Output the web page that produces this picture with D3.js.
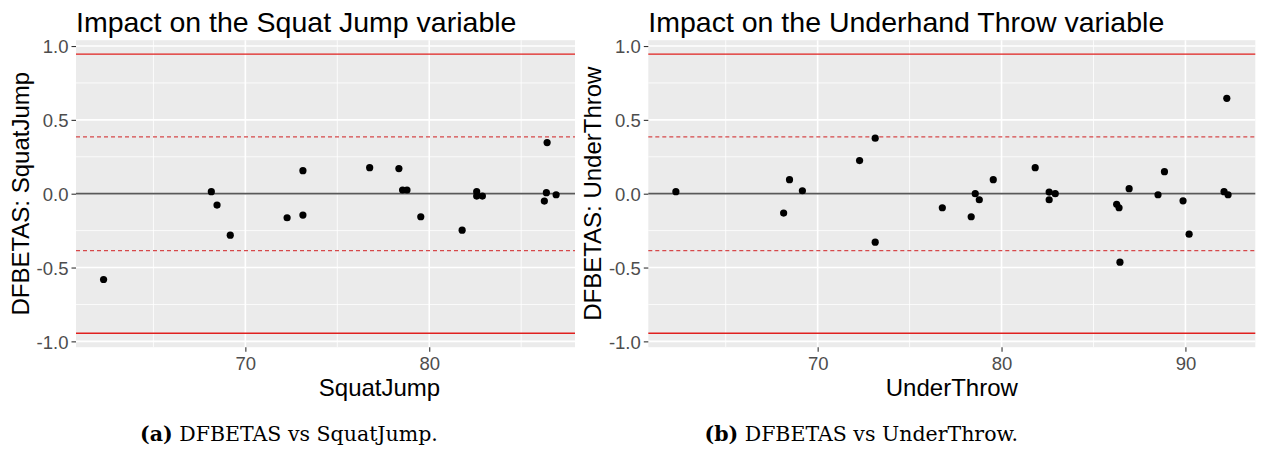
<!DOCTYPE html>
<html>
<head>
<meta charset="utf-8">
<script src="https://cdn.jsdelivr.net/npm/d3@7"></script>
<style>
  html, body { margin: 0; padding: 0; background: #ffffff; }
  svg { display: block; }
</style>
</head>
<body>
<svg id="chart" width="1261" height="450"></svg>
<script>
// ---------------- data ----------------
const titles = ["Impact on the Squat Jump variable", "Impact on the Underhand Throw variable"];
const xTitles = ["SquatJump", "UnderThrow"];
const yTitles = ["DFBETAS: SquatJump", "DFBETAS: UnderThrow"];
const captionTags = ["(a)", "(b)"];
const captionTexts = [" DFBETAS vs SquatJump.", " DFBETAS vs UnderThrow."];

// Squat Jump panel (visible points)
const sjX   = [62.29, 68.15, 68.46, 69.18, 72.27, 73.13, 73.13, 76.76, 78.35, 78.55,
               78.79, 79.54, 81.79, 82.58, 82.58, 82.89, 86.26, 86.41, 86.37, 86.90];
const sjDfb = [-0.581, 0.014, -0.077, -0.281, -0.163, 0.156, -0.145, 0.176, 0.170, 0.025,
               0.025, -0.156, -0.247, 0.014, -0.016, -0.016, -0.050, 0.346, 0.007, -0.007];

// Underhand Throw panel
const utX   = [62.29, 68.15, 68.47, 69.17, 72.28, 73.13, 73.13, 76.78, 78.35, 78.57,
               78.79, 79.55, 81.83, 82.59, 82.59, 82.92, 86.26, 86.39, 86.44, 86.94,
               88.51, 88.86, 89.87, 90.20, 92.10, 92.32, 92.25];
const utDfb = [0.014, -0.131, 0.095, 0.020, 0.224, 0.376, -0.328, -0.095, -0.156, 0.000,
               -0.041, 0.095, 0.176, 0.011, -0.041, 0.000, -0.072, -0.095, -0.464, 0.034,
               -0.007, 0.149, -0.048, -0.274, 0.014, -0.007, 0.646];

const xLimits = [60.79, 93.80];
const yLimits = [-1.0395, 1.0395];
const xMajor = [70, 80, 90];
const xMinor = [65, 75, 85];
const yMajor = [-1.0, -0.5, 0.0, 0.5, 1.0];
const yMinor = [-0.75, -0.25, 0.25, 0.75];
const yTickLabels = ["-1.0", "-0.5", "0.0", "0.5", "1.0"];
const cutoffSolid = [0.945, -0.945];
const cutoffDashed = [0.385, -0.385];

// ---------------- layout ----------------
const svg = d3.select("#chart");
const panelLeft = 76, panelWidth = 607, panelTop = 40.2, panelBottom = 347.2;
const figOffsets = [0, 572.3];
const clipRight = [575, 1261];
const sans = "'Liberation Sans', Arial, sans-serif";

const x = d3.scaleLinear().domain(xLimits).range([panelLeft, panelLeft + panelWidth]);
const y = d3.scaleLinear().domain(yLimits).range([panelBottom, panelTop]);

const defs = svg.append("defs");

function drawFigure(i, xs, ys) {
  const off = figOffsets[i];
  // clip path in the group's own (translated) coordinates
  defs.append("clipPath").attr("id", "clip" + i)
    .append("rect").attr("x", -off).attr("y", 0)
    .attr("width", clipRight[i]).attr("height", 450);
  const g = svg.append("g").attr("transform", `translate(${off},0)`)
    .attr("clip-path", `url(#clip${i})`);

  // panel background
  g.append("rect").attr("x", x.range()[0]).attr("y", panelTop)
    .attr("width", panelWidth).attr("height", panelBottom - panelTop)
    .attr("fill", "#EBEBEB");

  // minor grid
  g.selectAll(".ymin").data(yMinor).enter().append("line")
    .attr("x1", x.range()[0]).attr("x2", x.range()[1])
    .attr("y1", d => y(d)).attr("y2", d => y(d))
    .attr("stroke", "#ffffff").attr("stroke-width", 0.8);
  g.selectAll(".xmin").data(xMinor).enter().append("line")
    .attr("y1", panelTop).attr("y2", panelBottom)
    .attr("x1", d => x(d)).attr("x2", d => x(d))
    .attr("stroke", "#ffffff").attr("stroke-width", 0.8);
  // major grid
  g.selectAll(".ymaj").data(yMajor).enter().append("line")
    .attr("x1", x.range()[0]).attr("x2", x.range()[1])
    .attr("y1", d => y(d)).attr("y2", d => y(d))
    .attr("stroke", "#ffffff").attr("stroke-width", 1.6);
  g.selectAll(".xmaj").data(xMajor).enter().append("line")
    .attr("y1", panelTop).attr("y2", panelBottom)
    .attr("x1", d => x(d)).attr("x2", d => x(d))
    .attr("stroke", "#ffffff").attr("stroke-width", 1.6);

  // reference lines
  g.append("line").attr("x1", x.range()[0]).attr("x2", x.range()[1])
    .attr("y1", y(0)).attr("y2", y(0))
    .attr("stroke", "#595959").attr("stroke-width", 1.7);
  g.selectAll(".solid").data(cutoffSolid).enter().append("line")
    .attr("x1", x.range()[0]).attr("x2", x.range()[1])
    .attr("y1", d => y(d)).attr("y2", d => y(d))
    .attr("stroke", "#E0201E").attr("stroke-width", 1.3);
  g.selectAll(".dash").data(cutoffDashed).enter().append("line")
    .attr("x1", x.range()[0]).attr("x2", x.range()[1])
    .attr("y1", d => y(d)).attr("y2", d => y(d))
    .attr("stroke", "#D6484A").attr("stroke-width", 1.3)
    .attr("stroke-dasharray", "4,3");

  // points
  g.selectAll(".pt").data(xs.map((v, k) => [v, ys[k]])).enter().append("circle")
    .attr("cx", d => x(d[0])).attr("cy", d => y(d[1])).attr("r", 3.6)
    .attr("fill", "#000000");

  // axes
  const yAxis = d3.axisLeft(y).tickValues(yMajor).tickSize(4.5).tickPadding(3)
    .tickFormat((d, k) => yTickLabels[k]);
  const ya = g.append("g").attr("transform", `translate(${panelLeft},0)`).call(yAxis);
  ya.attr("font-family", null);
  ya.select(".domain").remove();
  ya.selectAll(".tick line").attr("stroke", "#333333").attr("stroke-width", 1.1);
  ya.selectAll(".tick text").attr("fill", "#4D4D4D").style("font-family", sans)
    .style("font-size", "18.5px").attr("dy", "0.36em");

  const xAxis = d3.axisBottom(x).tickValues(xMajor).tickSize(4.5).tickPadding(5)
    .tickFormat(d3.format("d"));
  const xa = g.append("g").attr("transform", `translate(0,${panelBottom})`).call(xAxis);
  xa.attr("font-family", null);
  xa.select(".domain").remove();
  xa.selectAll(".tick line").attr("stroke", "#333333").attr("stroke-width", 1.1);
  xa.selectAll(".tick text").attr("fill", "#4D4D4D").style("font-family", sans)
    .style("font-size", "18.5px");

  // titles
  g.append("text").attr("x", panelLeft).attr("y", 32)
    .style("font-family", sans).style("font-size", "28.5px").attr("fill", "#000")
    .text(titles[i]);
  g.append("text").attr("x", panelLeft + panelWidth / 2).attr("y", 396)
    .attr("text-anchor", "middle")
    .style("font-family", sans).style("font-size", "24px").attr("fill", "#000")
    .text(xTitles[i]);
  g.append("text")
    .attr("transform", `translate(28.5,${(panelTop + panelBottom) / 2}) rotate(-90)`)
    .attr("text-anchor", "middle")
    .style("font-family", sans).style("font-size", "24px").attr("fill", "#000")
    .text(yTitles[i]);

  // caption
  const cap = g.append("text").attr("x", 289).attr("y", 441)
    .attr("text-anchor", "middle")
    .style("font-family", "'DejaVu Serif', 'Liberation Serif', serif")
    .style("font-size", "20.5px").attr("fill", "#000");
  cap.append("tspan").style("font-weight", "bold").text(captionTags[i]);
  cap.append("tspan").text(captionTexts[i]);
}

drawFigure(0, sjX, sjDfb);
drawFigure(1, utX, utDfb);
</script>
</body>
</html>
